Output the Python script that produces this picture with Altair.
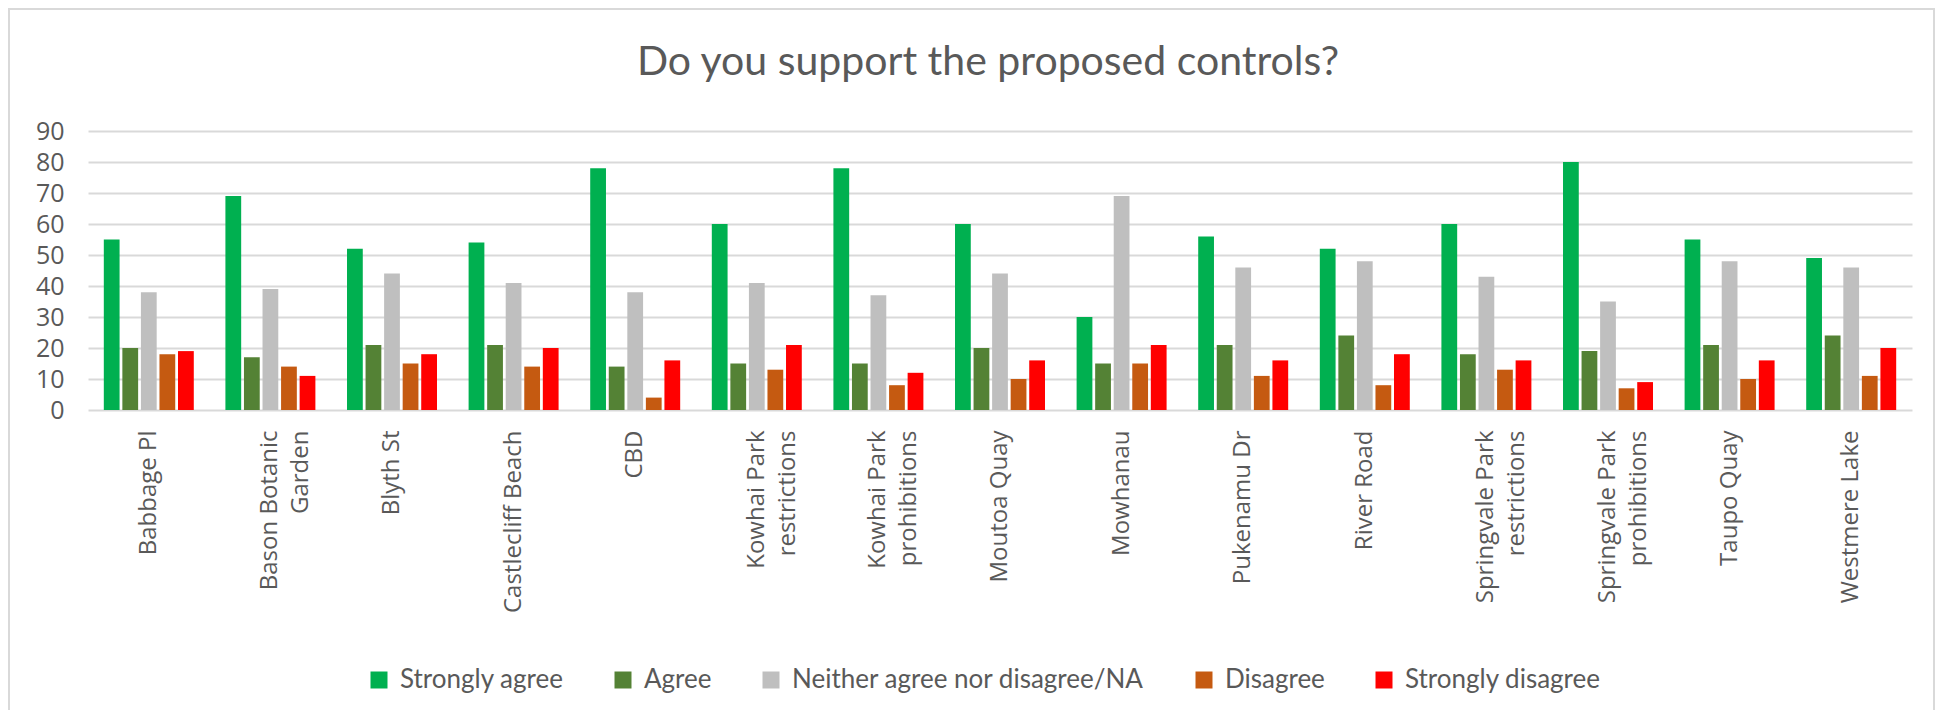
import altair as alt
import pandas as pd

locations = [
    "Babbage Pl", "Bason Botanic\nGarden", "Blyth St", "Castlecliff Beach", "CBD",
    "Kowhai Park\nrestrictions", "Kowhai Park\nprohibitions", "Moutoa Quay", "Mowhanau",
    "Pukenamu Dr", "River Road", "Springvale Park\nrestrictions",
    "Springvale Park\nprohibitions", "Taupo Quay", "Westmere Lake",
]
series = ["Strongly agree", "Agree", "Neither agree nor disagree/NA", "Disagree", "Strongly disagree"]
strongly_agree = [55, 69, 52, 54, 78, 60, 78, 60, 30, 56, 52, 60, 80, 55, 49]
agree = [20, 17, 21, 21, 14, 15, 15, 20, 15, 21, 24, 18, 19, 21, 24]
neither = [38, 39, 44, 41, 38, 41, 37, 44, 69, 46, 48, 43, 35, 48, 46]
disagree = [18, 14, 15, 14, 4, 13, 8, 10, 15, 11, 8, 13, 7, 10, 11]
strongly_disagree = [19, 11, 18, 20, 16, 21, 12, 16, 21, 16, 18, 16, 9, 16, 20]
colors = ["#00B050", "#548235", "#BFBFBF", "#C55A11", "#FF0000"]
y_ticks = [0, 10, 20, 30, 40, 50, 60, 70, 80, 90]

rows = []
for vals, s in zip([strongly_agree, agree, neither, disagree, strongly_disagree], series):
    for loc, v in zip(locations, vals):
        rows.append({"location": loc, "response": s, "count": v})
df = pd.DataFrame(rows)

W, H = 1824, 279
TXT = "#595959"

bars = alt.Chart(df).mark_bar().encode(
    x=alt.X("location:N", sort=locations,
            scale=alt.Scale(paddingInner=0.26, paddingOuter=0.13),
            axis=alt.Axis(title=None, labelAngle=270, labelFontSize=24, labelFont="Open Sans",
                          labelColor=TXT, labelPadding=20, ticks=False, domain=False,
                          labelLimit=400, labelLineHeight=31,
                          labelExpr="split(datum.label, '\\n')")),
    xOffset=alt.XOffset("response:N", sort=series, scale=alt.Scale(paddingInner=0.15)),
    y=alt.Y("count:Q", scale=alt.Scale(domain=[0, 90], nice=False),
            axis=alt.Axis(title=None, values=y_ticks, labelFontSize=25, labelFont="Open Sans",
                          labelColor=TXT, labelPadding=24, ticks=False, domain=False,
                          grid=True, gridColor="#D9D9D9", gridWidth=2)),
    color=alt.Color("response:N", sort=series,
                    scale=alt.Scale(domain=series, range=colors),
                    legend=alt.Legend(title=None, orient="none", legendX=278, legendY=536,
                                      direction="horizontal", columns=5, symbolType="square",
                                      symbolSize=289, symbolStrokeWidth=0, labelFontSize=26,
                                      labelFont="Lato", labelColor=TXT, columnPadding=46,
                                      labelOffset=8, padding=0, labelLimit=600)),
)

frame = alt.Chart(pd.DataFrame({"k": [0]})).mark_rect(
    fill=None, stroke="#D9D9D9", strokeWidth=2, clip=False
).encode(
    x=alt.value(-79), x2=alt.value(1846), y=alt.value(-122), y2=alt.value(700)
)

chart = alt.layer(frame, bars).properties(
    width=W, height=H,
    padding={"left": 80, "top": 123, "right": 32, "bottom": 300},
    autosize=alt.AutoSizeParams(type="none"),
    title=alt.TitleParams("Do you support the proposed controls?", fontSize=41, font="Lato",
                          fontWeight="normal", color=TXT, anchor="middle", offset=-76, dx=-12),
).configure_view(stroke=None)

chart.save("out.html", embed_options={"renderer": "svg", "actions": False})
